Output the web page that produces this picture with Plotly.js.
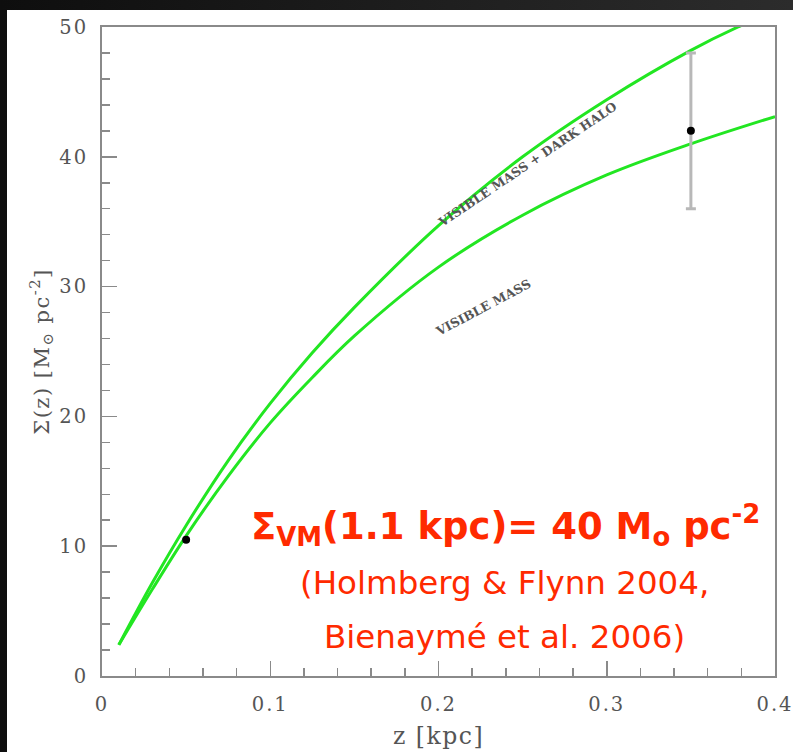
<!DOCTYPE html>
<html>
<head>
<meta charset="utf-8">
<script src="https://cdn.plot.ly/plotly-3.0.1.min.js"></script>
<style>
  html, body { margin: 0; padding: 0; }
  body {
    width: 793px; height: 752px; overflow: hidden;
    background: linear-gradient(to right, #0e0e0e, #2c2c2c);
    position: relative;
  }
  #chart { position: absolute; left: 7px; top: 10px; width: 786px; height: 742px; background: #fff; }
  /* wide, airy serif lettering for the axis numbers and titles */
  #chart .xtick text, #chart .ytick text { letter-spacing: 2px; }
  #chart .g-xtitle text, #chart .g-ytitle text { letter-spacing: 1.5px; }
</style>
</head>
<body>
<div id="chart"></div>
<script>
// Cumulative surface density Sigma(z) of the solar-neighbourhood disc
const zHalo     = [0.01, 0.03, 0.05, 0.075, 0.10, 0.125, 0.15, 0.20, 0.25, 0.30, 0.35, 0.378, 0.40];
const sigmaHalo = [2.4, 7.2, 11.6, 16.6, 21.0, 24.9, 28.4, 34.7, 40.0, 44.4, 48.2, 50.0, 51.2];

const zVisible     = [0.01, 0.03, 0.05, 0.075, 0.10, 0.125, 0.15, 0.20, 0.25, 0.30, 0.35, 0.40];
const sigmaVisible = [2.4, 6.7, 10.8, 15.4, 19.5, 23.0, 26.2, 31.5, 35.5, 38.6, 41.0, 43.1];

// Measured points with their uncertainties
const obsZ     = [0.05, 0.35];
const obsSigma = [10.5, 42];
const obsErr   = [0, 6];

const curveLabels = ['VISIBLE MASS + DARK HALO', 'VISIBLE MASS'];

const green = '#22e622';
const axisGray = '#8a8a8a';
const tickFont = { family: 'DejaVu Serif', size: 19.5, color: '#555' };
const red = '#ff2a00';
const noteFont = 'DejaVu Sans';

const traces = [
  { x: zHalo, y: sigmaHalo, mode: 'lines', line: { color: green, width: 3, shape: 'spline', smoothing: 1 }, hoverinfo: 'skip' },
  { x: zVisible, y: sigmaVisible, mode: 'lines', line: { color: green, width: 3, shape: 'spline', smoothing: 1 }, hoverinfo: 'skip' }
];
obsZ.forEach((z, i) => {
  traces.push({
    x: [z], y: [obsSigma[i]], mode: 'markers',
    marker: { color: '#000', size: 8 },
    error_y: { type: 'data', array: [obsErr[i]], visible: obsErr[i] > 0, color: '#b8b8b8', thickness: 3, width: 5 }
  });
});

const layout = {
  width: 786, height: 742,
  margin: { l: 95, r: 18, t: 17, b: 76 },
  showlegend: false,
  paper_bgcolor: '#fff', plot_bgcolor: '#fff',
  xaxis: {
    range: [0, 0.4], dtick: 0.1, tickformat: '.1~f',
    showgrid: false, zeroline: false,
    showline: true, mirror: true, linecolor: axisGray, linewidth: 2,
    ticks: 'inside', ticklen: 15, tickcolor: axisGray, tickwidth: 1.5,
    minor: { dtick: 0.02, ticks: 'inside', ticklen: 8, tickcolor: axisGray, tickwidth: 1.5, showgrid: false },
    tickfont: tickFont, ticklabelstandoff: 10,
    title: { text: 'z [kpc]', font: { family: 'DejaVu Serif', size: 23.5, color: '#555' }, standoff: 12 }
  },
  yaxis: {
    range: [0, 50], dtick: 10,
    showgrid: false, zeroline: false,
    showline: true, mirror: true, linecolor: axisGray, linewidth: 2,
    ticks: 'inside', ticklen: 15, tickcolor: axisGray, tickwidth: 1.5,
    minor: { dtick: 2, ticks: 'inside', ticklen: 8, tickcolor: axisGray, tickwidth: 1.5, showgrid: false },
    tickfont: tickFont, ticklabelstandoff: 8,
    title: { text: 'Σ(z) [M<sub>⊙</sub> pc<sup>-2</sup>]', font: { family: 'DejaVu Serif', size: 21, color: '#555' }, standoff: 8 }
  },
  annotations: [
    { x: 0.2526, y: 39.4, xref: 'x', yref: 'y', text: curveLabels[0], showarrow: false, textangle: -34,
      font: { family: 'DejaVu Serif', size: 12.5, weight: 'bold', color: '#555' } },
    { x: 0.2265, y: 28.4, xref: 'x', yref: 'y', text: curveLabels[1], showarrow: false, textangle: -28,
      font: { family: 'DejaVu Serif', size: 12.5, weight: 'bold', color: '#555' } },
    { x: 0.240, y: 11.6, xref: 'x', yref: 'y', showarrow: false,
      text: '<b>Σ<sub>VM</sub>(1.1 kpc)= 40 M<sub>o</sub> pc<sup>-2</sup></b>',
      font: { family: noteFont, size: 37, color: red } },
    { x: 0.239, y: 7.2, xref: 'x', yref: 'y', showarrow: false,
      text: '(Holmberg & Flynn 2004,',
      font: { family: noteFont, size: 32.5, color: red } },
    { x: 0.239, y: 3.0, xref: 'x', yref: 'y', showarrow: false,
      text: 'Bienaymé et al. 2006)',
      font: { family: noteFont, size: 32.5, color: red } }
  ]
};

Plotly.newPlot('chart', traces, layout, { displayModeBar: false, staticPlot: true });
</script>
</body>
</html>
